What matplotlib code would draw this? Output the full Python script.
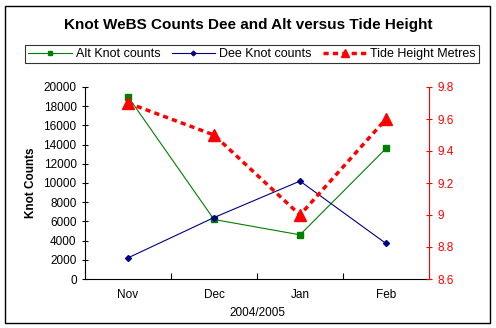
import matplotlib
matplotlib.use("Agg")
import matplotlib.pyplot as plt
from matplotlib.patches import Rectangle

plt.rcParams['font.family'] = ['Liberation Sans', 'DejaVu Sans']

months = ["Nov", "Dec", "Jan", "Feb"]
alt_counts = [19000, 6200, 4600, 13600]
dee_counts = [2200, 6400, 10200, 3700]
tide_height = [9.7, 9.5, 9.0, 9.6]

fig = plt.figure(figsize=(4.96, 3.28), dpi=100)
ax = fig.add_axes([85/496, 1-279/328, (429-85)/496, (279-87)/328])
x = range(len(months))

l1, = ax.plot(x, alt_counts, color="green", lw=0.8, marker="s", ms=4, label="Alt Knot counts")
l2, = ax.plot(x, dee_counts, color="navy", lw=0.8, marker="D", ms=3, label="Dee Knot counts")
ax.set_ylim(0, 20000)
ax.set_yticks(range(0, 20001, 2000))
ax.set_xlim(-0.5, 3.5)
ax.set_xticks([0.5, 1.5, 2.5])
ax.set_xticklabels([])
for i, m in enumerate(months):
    ax.text(i, -0.05, m, transform=ax.get_xaxis_transform(), ha="center", va="top", fontsize=8.5)
ax.text(1.5, -0.145, "2004/2005", transform=ax.get_xaxis_transform(), ha="center", va="top", fontsize=8.5)
ax.set_ylabel("Knot Counts", fontsize=8.5, fontweight="bold", labelpad=5)
ax.tick_params(axis="y", direction="inout", length=5, labelsize=8.5, width=0.8)
ax.tick_params(axis="x", direction="in", length=4, width=0.8)
for s in ["top", "right"]:
    ax.spines[s].set_visible(False)

ax2 = ax.twinx()
l3, = ax2.plot(x, tide_height, color="red", lw=2.5, ls=(0, (1.5, 1.2)), marker="^", ms=8, label="Tide Height Metres")
ax2.set_ylim(8.6, 9.8)
ax2.set_yticks([8.6, 8.8, 9.0, 9.2, 9.4, 9.6, 9.8])
ax2.set_yticklabels(["8.6", "8.8", "9", "9.2", "9.4", "9.6", "9.8"])
ax2.tick_params(axis="y", direction="inout", length=5, labelsize=8.5, colors="red", width=0.8)
ax2.spines["right"].set_color("red")
for s in ["top", "left", "bottom"]:
    ax2.spines[s].set_visible(False)

fig.text(0.5, 1-25/328, "Knot WeBS Counts Dee and Alt versus Tide Height", ha="center", va="center",
         fontsize=11, fontweight="bold")
leg = fig.legend(handles=[l1, l2, l3], loc="lower left",
                 bbox_to_anchor=(25/496, 1-63/328, 454/496, 22/328), mode="expand", ncol=3,
                 fontsize=9, frameon=True, fancybox=False, edgecolor="black", handlelength=3.5,
                 handletextpad=0.3, borderpad=0.25, borderaxespad=0, markerscale=0.8)
leg.get_frame().set_linewidth(0.8)

fig.patches.append(Rectangle((5/496, 5/328), 485/496, 317/328, transform=fig.transFigure,
                             fill=False, edgecolor="black", lw=1))
fig.savefig("out.png", dpi=100)
